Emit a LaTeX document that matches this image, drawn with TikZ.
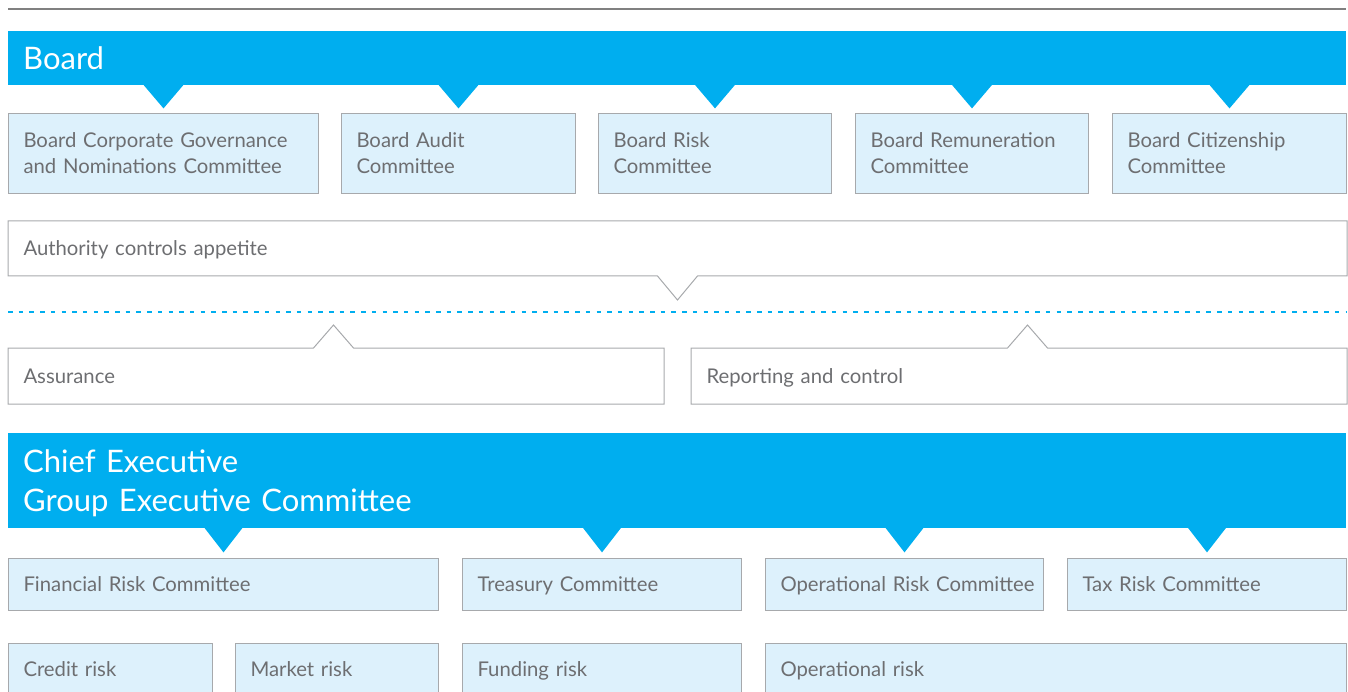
\documentclass[tikz,border=0pt]{standalone}
\usepackage{fontspec}
\setmainfont{Lato}
\usetikzlibrary{calc}
\definecolor{barblue}{HTML}{00AEEF}
\definecolor{paleblue}{HTML}{DDF1FC}
\definecolor{edgegray}{HTML}{A7A9AC}
\definecolor{txtgray}{HTML}{6D6E71}

\begin{document}
\begin{tikzpicture}[x=1pt, y=-1pt,
  banner/.style = {fill=barblue, text=white, anchor=north west, align=left,
    inner xsep=15pt, inner ysep=0pt, font=\fontsize{31}{39}\selectfont},
  cbox/.style = {draw=edgegray, line width=1pt, fill=paleblue, text=txtgray,
    anchor=north west, align=left, inner xsep=15pt, inner ysep=0pt,
    font=\fontsize{20.3}{26}\selectfont},
  sbox/.style = {cbox, text height=14.5pt, text depth=0pt},
  wbox/.style = {sbox, draw=none, fill=none},
  outline/.style = {draw=edgegray, line width=1pt}]

  \useasboundingbox (0,0) rectangle (1348,692);
  \draw[gray, line width=1.2pt] (8,9) -- (1346,9);

  % board and its committees
  \node[banner, text width=1308pt, minimum height=54pt] (board) at (8,31) {Board};

  \node[cbox, text width=280pt, minimum height=80pt] (cgn) at (8,113)
    {Board Corporate Governance\\and Nominations Committee};
  \node[cbox, text width=204pt, minimum height=80pt] (audit) at (341,113)
    {Board Audit\\Committee};
  \node[cbox, text width=203pt, minimum height=80pt] (risk) at (598,113)
    {Board Risk\\Committee};
  \node[cbox, text width=203pt, minimum height=80pt] (remun) at (855,113)
    {Board Remuneration\\Committee};
  \node[cbox, text width=204pt, minimum height=80pt] (citizen) at (1112,113)
    {Board Citizenship\\Committee};

  \foreach \c in {cgn, audit, risk, remun, citizen}
    \fill[barblue] ($(board.south -| \c.north)+(-20,-0.5)$) -- ++(20,23.5) -- ++(20,-23.5) -- cycle;

  % authority, assurance and reporting
  \node[wbox, text width=1308pt, minimum height=54pt] (auth) at (8,221)
    {Authority controls appetite};
  \draw[outline] (auth.north west) -- (auth.north east) -- (auth.south east)
    -- ([xshift=20pt]auth.south) -- ++(-20,24) -- ++(-20,-24) -- (auth.south west) -- cycle;

  \coordinate (sepl) at (8,312);
  \coordinate (sepr) at (1346,312);
  \draw[barblue, line width=2.5pt, dash pattern=on 4.5pt off 6.2pt] (sepl) -- (sepr);

  \node[wbox, text width=625pt, minimum height=55pt] (assur) at (8,348) {Assurance};
  \draw[outline] (assur.south west) -- (assur.north west) -- ([xshift=-22.5pt]assur.north)
    -- ++(20,-23) -- ++(20,23) -- (assur.north east) -- (assur.south east) -- cycle;

  \node[wbox, text width=625pt, minimum height=55pt] (report) at (691,348)
    {Reporting and control};
  \draw[outline] (report.south west) -- (report.north west) -- ([xshift=-11.5pt]report.north)
    -- ++(20,-23) -- ++(20,23) -- (report.north east) -- (report.south east) -- cycle;

  % executive and its committees
  \node[banner, text width=1308pt, minimum height=95pt, text depth=40pt] (exec) at (8,433)
    {Chief Executive\\Group Executive Committee};

  \node[sbox, text width=400pt, minimum height=52pt] (fin) at (8,558)
    {Financial Risk Committee};
  \node[sbox, text width=249pt, minimum height=52pt] (treas) at (462,558)
    {Treasury Committee};
  \node[sbox, text width=248pt, minimum height=52pt] (oprc) at (765,558)
    {\mbox{Operational Risk Committee}};
  \node[sbox, text width=249pt, minimum height=52pt] (tax) at (1067,558)
    {Tax Risk Committee};

  \foreach \c in {fin, treas, oprc, tax}
    \fill[barblue] ($(exec.south -| \c.north)+(-19,-0.5)$) -- ++(19,24.5) -- ++(19,-24.5) -- cycle;

  \node[sbox, text width=174pt, minimum height=52pt] (credit) at (8,643) {Credit risk};
  \node[sbox, text width=173pt, minimum height=52pt] (market) at (235,643) {Market risk};
  \node[sbox, text width=249pt, minimum height=52pt] (funding) at (462,643) {Funding risk};
  \node[sbox, text width=551pt, minimum height=52pt] (oprisk) at (765,643) {Operational risk};
\end{tikzpicture}
\end{document}
